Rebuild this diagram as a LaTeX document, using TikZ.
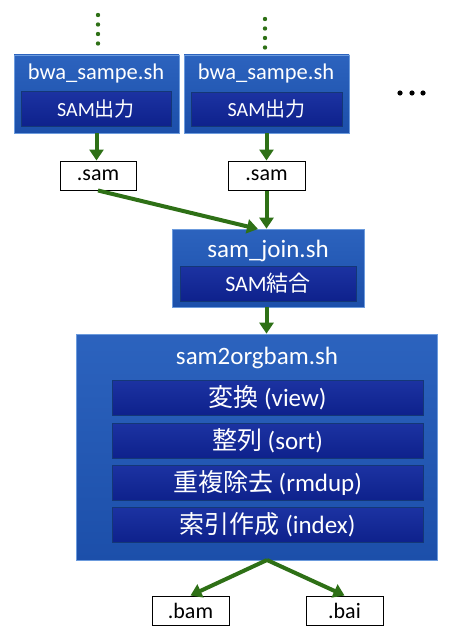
\documentclass[tikz,border=0pt]{standalone}
\usepackage{fontspec}
\setmainfont{Carlito}
\newfontfamily\jp{Noto Sans CJK JP}
\usetikzlibrary{arrows.meta}
\definecolor{outertop}{HTML}{2C63BE}
\definecolor{outerbot}{HTML}{1C4FAA}
\definecolor{innertop}{HTML}{1C33A2}
\definecolor{innerbot}{HTML}{0E218C}
\definecolor{edgeblue}{HTML}{6C9BDD}
\definecolor{flow}{HTML}{2E7016}
\tikzset{
  scriptbox/.style={shade, top color=outertop, bottom color=outerbot,
    draw=edgeblue, line width=0.7pt, inner sep=0pt},
  stagebox/.style={shade, top color=innertop, bottom color=innerbot,
    draw=outerbot!70!black, line width=0.5pt, inner sep=0pt,
    text=white},
  filebox/.style={draw=black, fill=white, line width=1pt, inner sep=0pt,
    font=\fontsize{22}{24}\selectfont},
  titletext/.style={text=white, inner sep=0pt},
  flowarrow/.style={draw=flow, line width=4pt,
    -{Triangle[length=11pt,width=14pt]}},
  flowdot/.style={fill=flow, draw=none},
}
\newcommand{\sized}[1]{\fontsize{#1}{#1}\selectfont}
\begin{document}
\begin{tikzpicture}[x=1pt,y=-1pt]
\useasboundingbox (0,0) rectangle (449,626);

% two alignment jobs
\node[scriptbox, minimum width=165pt, minimum height=78pt] (bwa1) at (96.5,94) {};
\node[stagebox, minimum width=150pt, minimum height=35pt] (bwa1in) at (96,108.5) {\sized{20}SAM{\jp 出力}};
\node[titletext, font=\sized{22.5}] (bwa1t) at (96,74) {bwa\_sampe.sh};

\node[scriptbox, minimum width=165pt, minimum height=78pt] (bwa2) at (266.5,94) {};
\node[stagebox, minimum width=151pt, minimum height=34pt] (bwa2in) at (266.5,109) {\sized{20}SAM{\jp 出力}};
\node[titletext, font=\sized{22.5}] (bwa2t) at (266,74) {bwa\_sampe.sh};

% continuation marks above the jobs
\foreach \y [count=\i] in {15,24.5,34,43.5} {
  \fill[flowdot] (98,\y) circle (2.2pt) coordinate (dl\i);
}
\foreach \y [count=\i] in {19,28.5,38,47.5} {
  \fill[flowdot] (265,\y) circle (2.2pt) coordinate (dr\i);
}
% more jobs
\foreach \x [count=\i] in {400,412,423} {
  \fill[black] (\x,93) circle (2.6pt) coordinate (more\i);
}

% intermediate SAM files
\node[filebox, minimum width=76pt, minimum height=29pt] (sam1) at (98,175.5) {.sam};
\node[filebox, minimum width=77pt, minimum height=29pt] (sam2) at (266.5,175.5) {.sam};

% join job
\node[scriptbox, minimum width=192pt, minimum height=78pt] (join) at (268,268) {};
\node[stagebox, minimum width=176pt, minimum height=35pt] (joinin) at (268,283.5) {\sized{22}SAM{\jp 結合}};
\node[titletext, font=\sized{25}] (joint) at (268,251) {sam\_join.sh};

% conversion job
\node[scriptbox, minimum width=361pt, minimum height=226pt] (org) at (256.5,447) {};
\node[titletext, font=\sized{25}] (orgt) at (257,358) {sam2orgbam.sh};
\node[stagebox, minimum width=311pt, minimum height=35pt] (s1) at (267.5,397.5) {\sized{25}{\jp 変換} (view)};
\node[stagebox, minimum width=311pt, minimum height=35pt] (s2) at (267.5,440.5) {\sized{25}{\jp 整列} (sort)};
\node[stagebox, minimum width=311pt, minimum height=35pt] (s3) at (267.5,482.5) {\sized{25}{\jp 重複除去} (rmdup)};
\node[stagebox, minimum width=311pt, minimum height=35pt] (s4) at (267.5,524.5) {\sized{25}{\jp 索引作成} (index)};

% output files
\node[filebox, minimum width=77pt, minimum height=29pt] (bam) at (190.5,610.5) {.bam};
\node[filebox, minimum width=77pt, minimum height=29pt] (bai) at (344.5,610.5) {.bai};

% data flow
\draw[flowarrow] (bwa1.south) -- (bwa1.south |- sam1.north);
\draw[flowarrow] (bwa2.south) -- (bwa2.south |- sam2.north);
\coordinate (joinin1) at (258,229);
\draw[flowarrow] (sam1.south) -- (joinin1);
\draw[flowarrow] (sam2.south) -- (sam2.south |- join.north);
\draw[flowarrow] (sam2.south |- join.south) -- (sam2.south |- org.north);
\coordinate (fork) at (267,560);
\draw[flowarrow] (fork) -- (bam.north);
\draw[flowarrow] (fork) -- (bai.north);
\end{tikzpicture}
\end{document}
